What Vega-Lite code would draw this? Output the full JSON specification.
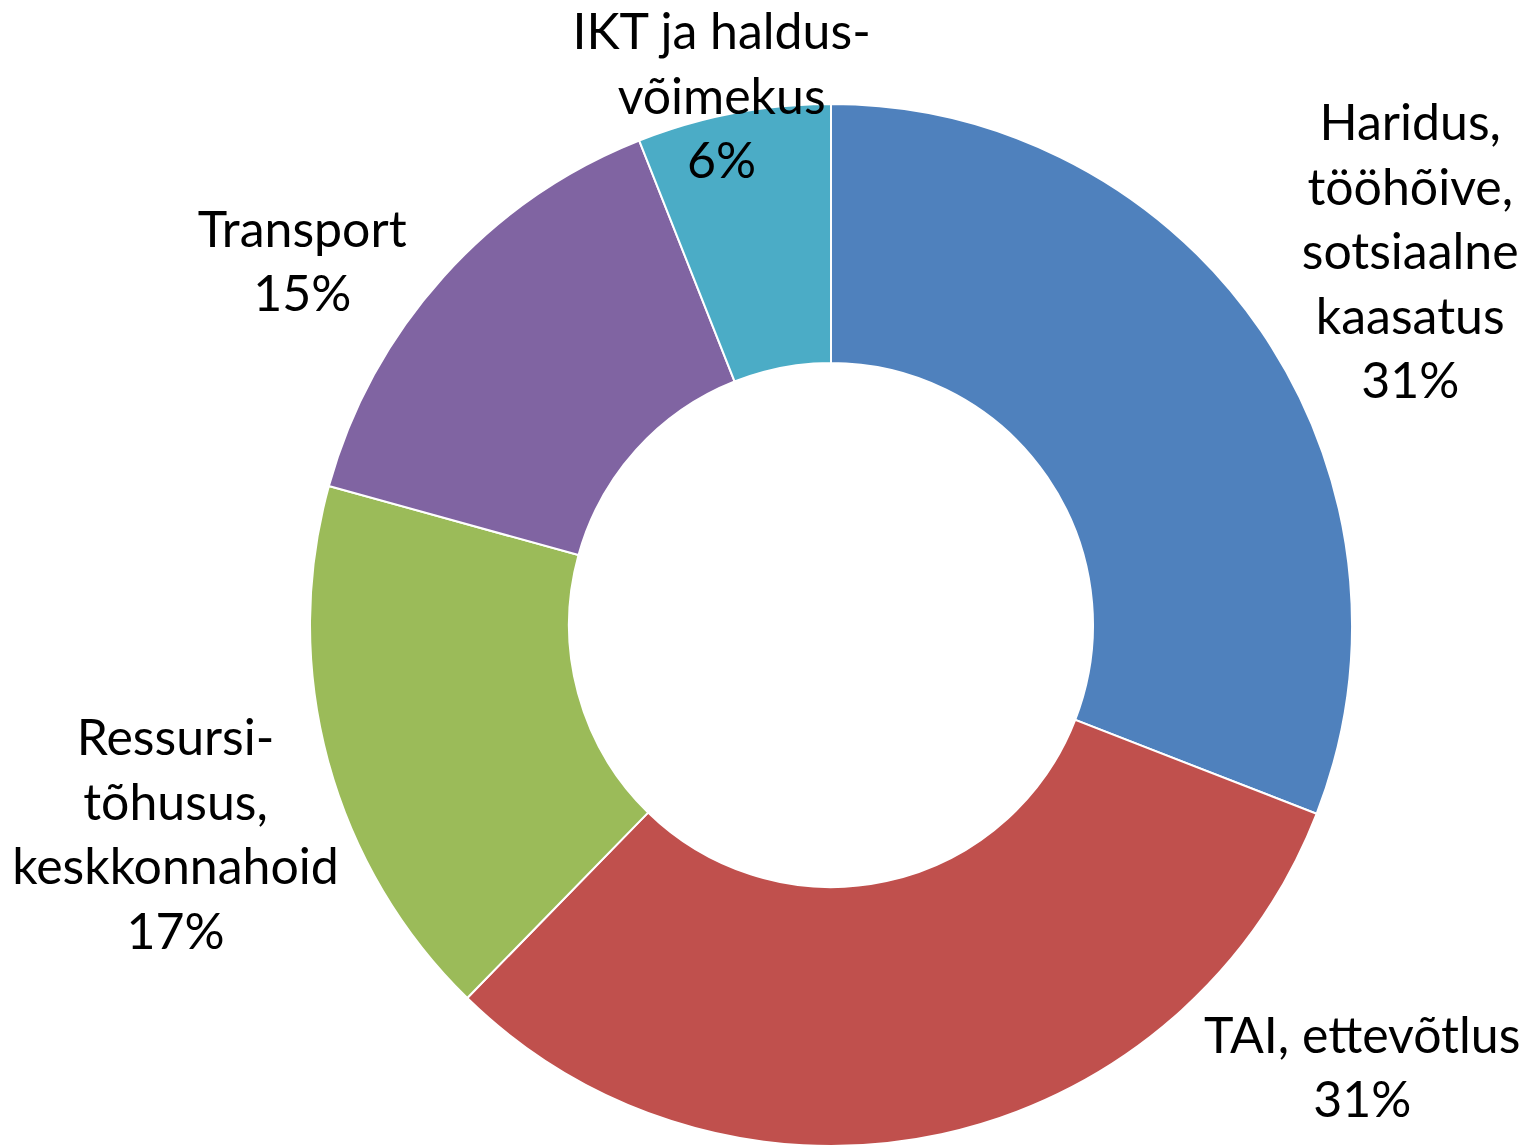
{
  "$schema": "https://vega.github.io/schema/vega-lite/v6.json",
  "width": 1394,
  "height": 1046,
  "autosize": "none",
  "padding": {"left": 134, "top": 102, "right": 0, "bottom": 0},
  "background": "white",
  "config": {"view": {"stroke": null}},
  "data": {
    "values": [
      {"cat": "Haridus", "order": 1, "value": 30.9, "label": "Haridus,\ntööhõive,\nsotsiaalne\nkaasatus\n31%"},
      {"cat": "TAI", "order": 2, "value": 31.4, "label": "TAI, ettevõtlus\n31%"},
      {"cat": "Ressursi", "order": 3, "value": 17.0, "label": "Ressursi-\ntõhusus,\nkeskkonnahoid\n17%"},
      {"cat": "Transport", "order": 4, "value": 14.7, "label": "Transport\n15%"},
      {"cat": "IKT", "order": 5, "value": 6.0, "label": "IKT ja haldus-\nvõimekus\n6%"}
    ]
  },
  "encoding": {
    "theta": {"field": "value", "type": "quantitative", "stack": true},
    "order": {"field": "order", "type": "quantitative"}
  },
  "layer": [
    {
      "mark": {"type": "arc", "outerRadius": 521, "innerRadius": 262, "stroke": "white", "strokeWidth": 2},
      "encoding": {
        "color": {
          "field": "cat",
          "type": "nominal",
          "legend": null,
          "scale": {
            "domain": ["Haridus", "TAI", "Ressursi", "Transport", "IKT"],
            "range": ["#4F81BD", "#C0504D", "#9BBB59", "#8064A2", "#4BACC6"]
          }
        }
      }
    },
    {
      "mark": {"type": "text", "radius": 680, "dx": 18, "dy": -116, "font": "Lato", "fontSize": 50, "lineHeight": 64.5, "lineBreak": "\n", "align": "center", "baseline": "middle", "color": "black"},
      "encoding": {"text": {"condition": {"test": "datum.cat === 'Haridus'", "field": "label"}, "value": ""}}
    },
    {
      "mark": {"type": "text", "radius": 680, "dx": 387, "dy": -252, "font": "Lato", "fontSize": 50, "lineHeight": 64.5, "lineBreak": "\n", "align": "center", "baseline": "middle", "color": "black"},
      "encoding": {"text": {"condition": {"test": "datum.cat === 'TAI'", "field": "label"}, "value": ""}}
    },
    {
      "mark": {"type": "text", "radius": 680, "dx": 1, "dy": -62, "font": "Lato", "fontSize": 50, "lineHeight": 64.5, "lineBreak": "\n", "align": "center", "baseline": "middle", "color": "black"},
      "encoding": {"text": {"condition": {"test": "datum.cat === 'Ressursi'", "field": "label"}, "value": ""}}
    },
    {
      "mark": {"type": "text", "radius": 680, "dx": -23, "dy": 61, "font": "Lato", "fontSize": 50, "lineHeight": 64.5, "lineBreak": "\n", "align": "center", "baseline": "middle", "color": "black"},
      "encoding": {"text": {"condition": {"test": "datum.cat === 'Transport'", "field": "label"}, "value": ""}}
    },
    {
      "mark": {"type": "text", "radius": 680, "dx": 18, "dy": 77, "font": "Lato", "fontSize": 50, "lineHeight": 64.5, "lineBreak": "\n", "align": "center", "baseline": "middle", "color": "black"},
      "encoding": {"text": {"condition": {"test": "datum.cat === 'IKT'", "field": "label"}, "value": ""}}
    }
  ]
}
